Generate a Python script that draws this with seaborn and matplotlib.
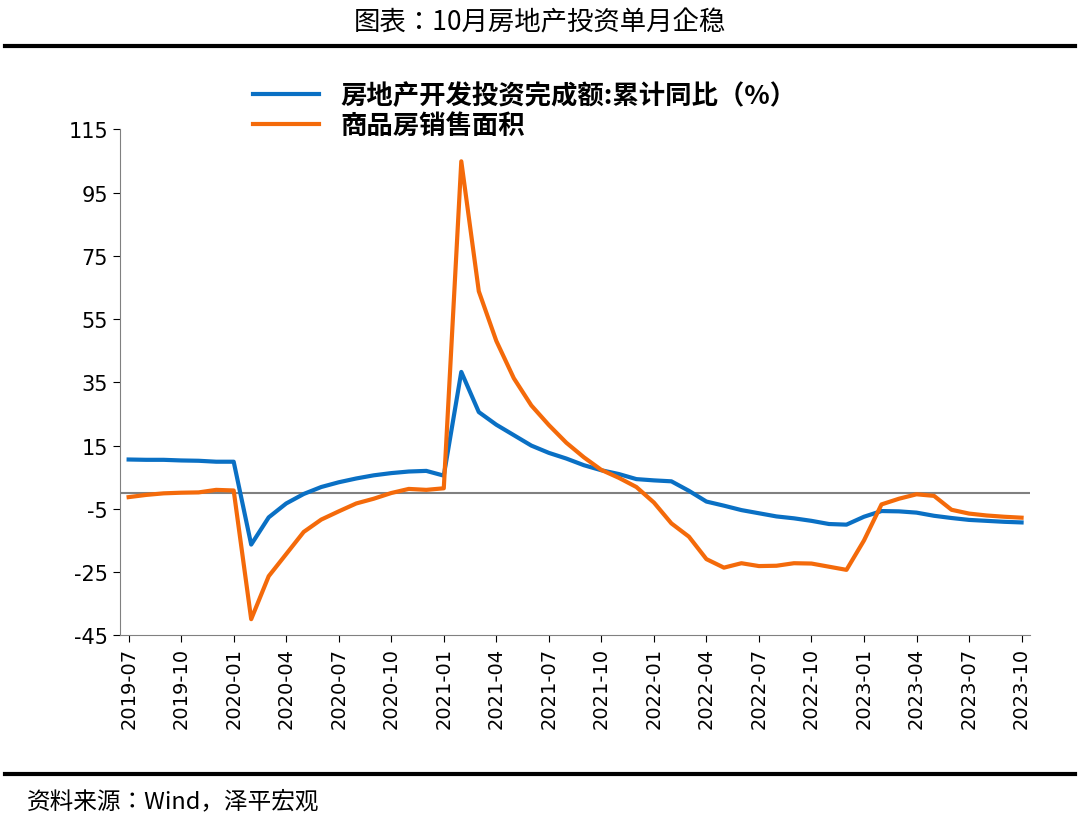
import matplotlib
matplotlib.use("Agg")
import matplotlib.pyplot as plt
from matplotlib import font_manager as fm
import seaborn as sns
import pandas as pd
import numpy as np

months = pd.period_range("2019-07", "2023-10", freq="M").strftime("%Y-%m").tolist()
invest = [10.6,10.5,10.5,10.3,10.2,9.9,9.9,-16.3,-7.7,-3.3,-0.3,1.9,3.4,4.6,5.6,6.3,6.8,7.0,
          5.5,38.3,25.6,21.6,18.3,15.0,12.7,10.9,8.8,7.2,6.0,4.4,4.0,3.7,0.7,-2.7,-4.0,-5.4,
          -6.4,-7.4,-8.0,-8.8,-9.8,-10.0,-7.5,-5.7,-5.8,-6.2,-7.2,-7.9,-8.5,-8.8,-9.1,-9.3]
sales = [-1.3,-0.6,-0.1,0.1,0.2,1.0,0.8,-39.9,-26.3,-19.3,-12.3,-8.4,-5.8,-3.3,-1.8,0.0,1.3,1.0,
         1.5,104.9,63.8,48.1,36.3,27.7,21.5,15.9,11.3,7.3,4.8,1.9,-3.0,-9.6,-13.8,-20.9,-23.6,-22.2,
         -23.1,-23.0,-22.2,-22.3,-23.3,-24.3,-15.0,-3.6,-1.8,-0.4,-0.9,-5.3,-6.5,-7.1,-7.5,-7.8]
yticks = [115,95,75,55,35,15,-5,-25,-45]
lab1 = "房地产开发投资完成额:累计同比（%）"
lab2 = "商品房销售面积"

cjk = None
for f in fm.findSystemFonts():
    if "CJK" in f and ("Regular" in f or "Bold" in f or f.endswith(".ttc")):
        try:
            fm.fontManager.addfont(f)
            if cjk is None:
                cjk = fm.FontProperties(fname=f).get_name()
        except Exception:
            pass
if cjk is None:
    cjk = "Noto Sans CJK SC"
plt.rcParams["font.family"] = [cjk, "DejaVu Sans"]
plt.rcParams["axes.unicode_minus"] = False

df = pd.DataFrame({"i": np.arange(len(months)), lab1: invest, lab2: sales})
long = df.melt(id_vars="i", var_name="s", value_name="v")

fig = plt.figure(figsize=(10.8, 8.2), dpi=100)
ax = fig.add_axes([0.111, 0.224, 0.843, 0.617])
sns.lineplot(data=long, x="i", y="v", hue="s", palette=["#0A70C4", "#F46A0A"], linewidth=3, ax=ax)
ax.axhline(0, color="#808080", lw=1.5, zorder=0)
ax.set_ylim(-45, 115)
ax.set_yticks(yticks)
ax.set_xlim(-0.5, 51.5)
ax.set_xticks(range(0, len(months), 3))
ax.set_xticklabels(months[::3], rotation=90, fontsize=14, fontfamily="DejaVu Sans")
for t in ax.get_yticklabels():
    t.set_fontfamily("DejaVu Sans")
ax.tick_params(axis="y", labelsize=15)
ax.set_xlabel(""); ax.set_ylabel("")
for s in ["top", "right"]:
    ax.spines[s].set_visible(False)
ax.spines["left"].set_color("#808080")
ax.spines["bottom"].set_color("#808080")
ax.tick_params(colors="#000000", length=5)
ax.legend(loc="upper left", bbox_to_anchor=(0.12, 1.14), frameon=False,
          prop={"size": 19, "weight": "bold", "family": cjk},
          handlelength=2.5, labelspacing=0.1)
fig.text(0.5, 0.972, "图表：10月房地产投资单月企稳", ha="center", va="center", fontsize=19)
fig.add_artist(plt.Line2D([0.005, 0.995], [0.943, 0.943], color="black", lw=3))
fig.add_artist(plt.Line2D([0.005, 0.995], [0.055, 0.055], color="black", lw=3))
fig.text(0.025, 0.022, "资料来源：Wind，泽平宏观", ha="left", va="center", fontsize=17, style="italic")
fig.savefig("out.png", dpi=100)
